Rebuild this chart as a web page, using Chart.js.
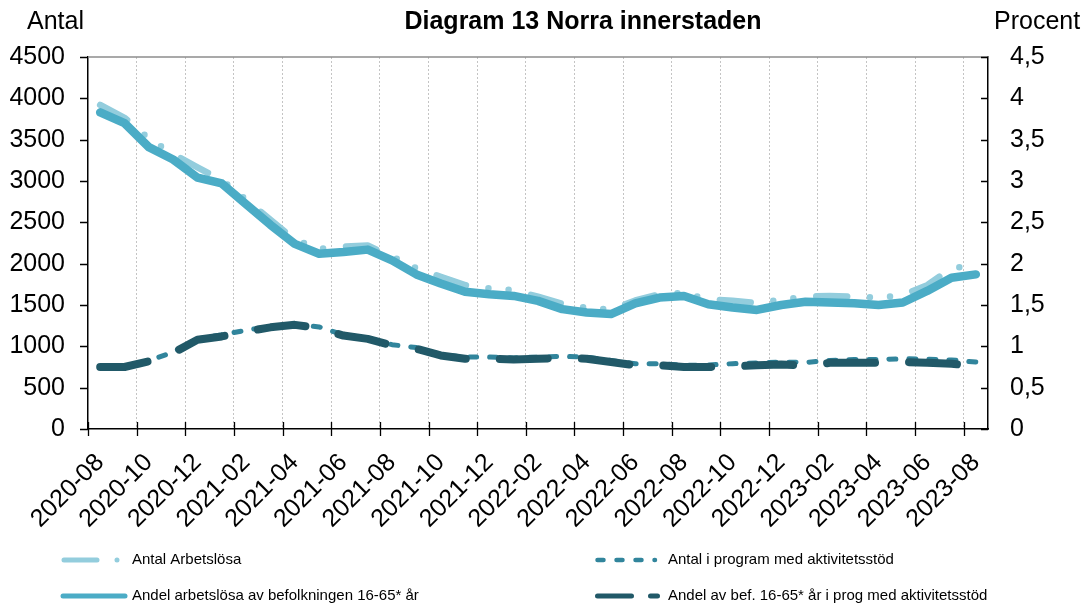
<!DOCTYPE html>
<html>
<head>
<meta charset="utf-8">
<script src="https://cdn.jsdelivr.net/npm/chart.js@4.4.1/dist/chart.umd.min.js"></script>
<style>
  body { margin: 0; background: #fff; }
  canvas { display: block; }
</style>
</head>
<body>
<canvas id="myChart" width="1087" height="607"></canvas>
<script>
var months = [
	"2020-08", "2020-09", "2020-10", "2020-11", "2020-12",
	"2021-01", "2021-02", "2021-03", "2021-04", "2021-05", "2021-06",
	"2021-07", "2021-08", "2021-09", "2021-10", "2021-11", "2021-12",
	"2022-01", "2022-02", "2022-03", "2022-04", "2022-05", "2022-06",
	"2022-07", "2022-08", "2022-09", "2022-10", "2022-11", "2022-12",
	"2023-01", "2023-02", "2023-03", "2023-04", "2023-05", "2023-06",
	"2023-07", "2023-08"
];

// vänster axel (antal)
var antalArbetslosa = [
	3920, 3765, 3515, 3325, 3165, 3010, 2775, 2530, 2290, 2180,
	2205, 2220, 2085, 1945, 1840, 1740, 1700, 1680, 1600, 1515,
	1465, 1445, 1555, 1630, 1645, 1570, 1550, 1525, 1565, 1600,
	1610, 1600, 1590, 1620, 1740, 1945, 1985
];
var antalProgram = [
	750, 755, 825, 930, 1090, 1140, 1195, 1240, 1270, 1235,
	1140, 1100, 1020, 985, 900, 870, 870, 860, 870, 880,
	870, 830, 790, 790, 770, 775, 790, 800, 810, 805,
	830, 840, 840, 850, 845, 835, 810
];

// höger axel (procent)
var andelArbetslosa = [
	3.83, 3.70, 3.41, 3.26, 3.04, 2.97, 2.72, 2.47, 2.24, 2.12,
	2.14, 2.17, 2.04, 1.87, 1.76, 1.66, 1.63, 1.61, 1.55, 1.45,
	1.41, 1.39, 1.52, 1.59, 1.61, 1.51, 1.47, 1.44, 1.50, 1.54,
	1.53, 1.52, 1.50, 1.53, 1.67, 1.83, 1.87
];
var andelProgram = [
	0.75, 0.75, 0.82, 0.92, 1.08, 1.12, 1.18, 1.23, 1.26, 1.22,
	1.13, 1.09, 1.01, 0.97, 0.89, 0.85, 0.85, 0.84, 0.85, 0.86,
	0.85, 0.81, 0.77, 0.77, 0.75, 0.75, 0.76, 0.77, 0.78, 0.77,
	0.80, 0.80, 0.80, 0.81, 0.80, 0.79, 0.76
];

var seriesNames = [
	"Antal Arbetslösa",
	"Antal i program med aktivitetsstöd",
	"Andel arbetslösa av befolkningen 16-65* år",
	"Andel av bef. 16-65* år i prog med aktivitetsstöd"
];

var FONT = '"Liberation Sans", Arial, sans-serif';
Chart.defaults.font.family = FONT;
Chart.defaults.color = '#000';

// legend sample styles (dash patterns as they appear in the legend)
var legendStyle = [
	{ width: 5, dash: [33, 20, 0, 100], from: 64, to: 125 },
	{ width: 4.5, dash: [6, 13], from: 60.5, to: 118 },
	{ width: 5, dash: [], from: 63, to: 125 },
	{ width: 5, dash: [34, 19, 7, 100], from: 60.5, to: 120.5 }
];

var decorations = {
	id: 'decorations',
	afterDraw: function (chart) {
		var ctx = chart.ctx, area = chart.chartArea;
		var xs = chart.scales.x, yl = chart.scales.y, yr = chart.scales.y1;
		ctx.save();

		// top frame line
		ctx.strokeStyle = '#8c8c8c';
		ctx.lineWidth = 1.5;
		ctx.beginPath();
		ctx.moveTo(area.left, area.top);
		ctx.lineTo(area.right, area.top);
		ctx.stroke();

		// tick marks
		ctx.strokeStyle = '#000';
		ctx.lineWidth = 1.3;
		ctx.beginPath();
		yl.ticks.forEach(function (t) {
			var p = Math.round(yl.getPixelForValue(t.value)) + 0.5;
			ctx.moveTo(area.left - 8, p);
			ctx.lineTo(area.left, p);
		});
		yr.ticks.forEach(function (t) {
			var p = Math.round(yr.getPixelForValue(t.value)) + 0.5;
			ctx.moveTo(area.right - 7, p);
			ctx.lineTo(area.right, p);
		});
		for (var i = 0; i < months.length; i += 2) {
			var px = Math.round(xs.getPixelForValue(i - 0.5)) + 0.5;
			ctx.moveTo(px, area.bottom - 7);
			ctx.lineTo(px, area.bottom + 7);
		}
		ctx.stroke();

		// titles
		ctx.fillStyle = '#000';
		ctx.textBaseline = 'alphabetic';
		ctx.font = '25px ' + FONT;
		ctx.textAlign = 'left';
		ctx.fillText('Antal', 27, 29);
		ctx.fillText('Procent', 994, 29);
		ctx.font = 'bold 25px ' + FONT;
		ctx.textAlign = 'center';
		ctx.fillText('Diagram 13 Norra innerstaden', 583, 29);

		// legend
		ctx.font = '15px ' + FONT;
		ctx.textAlign = 'left';
		ctx.textBaseline = 'middle';
		chart.data.datasets.forEach(function (ds, k) {
			var col = k % 2, row = Math.floor(k / 2);
			var ox = col === 0 ? 0 : 537;
			var y = row === 0 ? 560 : 596;
			var st = legendStyle[k];
			ctx.save();
			ctx.strokeStyle = ds.borderColor;
			ctx.lineWidth = st.width;
			ctx.lineCap = 'round';
			ctx.setLineDash(st.dash);
			ctx.beginPath();
			ctx.moveTo(ox + st.from, y);
			ctx.lineTo(ox + st.to, y);
			ctx.stroke();
			ctx.restore();
			ctx.fillText(ds.label, ox + (col === 0 ? 132 : 131), y);
		});

		ctx.restore();
	}
};

var ctx = document.getElementById("myChart").getContext("2d");

var myChart = new Chart(ctx, {
	type: 'line',
	data: {
		labels: months,
		datasets: [
			{
				label: seriesNames[0],
				data: antalArbetslosa,
				yAxisID: 'y',
				borderColor: '#93cddd',
				borderWidth: 6.5,
				borderDash: [31, 22.7, 0, 20.2, 0, 23],
				borderCapStyle: 'round',
				order: 4
			},
			{
				label: seriesNames[1],
				data: antalProgram,
				yAxisID: 'y',
				borderColor: '#31859c',
				borderWidth: 5,
				borderDash: [7, 13],
				borderCapStyle: 'round',
				order: 3
			},
			{
				label: seriesNames[2],
				data: andelArbetslosa,
				yAxisID: 'y1',
				borderColor: '#4bacc6',
				borderWidth: 8.5,
				borderCapStyle: 'round',
				order: 2
			},
			{
				label: seriesNames[3],
				data: andelProgram,
				yAxisID: 'y1',
				borderColor: '#215968',
				borderWidth: 8,
				borderDash: [48, 34],
				borderCapStyle: 'round',
				order: 1
			}
		]
	},
	options: {
		responsive: false,
		animation: false,
		devicePixelRatio: 1,
		layout: { padding: { top: 57, bottom: 78, left: 0, right: 0 } },
		elements: {
			point: { radius: 0, hoverRadius: 0 },
			line: { tension: 0, borderJoinStyle: 'round', fill: false }
		},
		plugins: {
			legend: { display: false },
			title: { display: false },
			tooltip: { enabled: false }
		},
		scales: {
			x: {
				offset: true,
				grid: {
					offset: true,
					drawTicks: false,
					lineWidth: 1,
					color: function (c) {
						return (c.index > 0 && c.index % 2 === 0) ? '#c4c4c4' : 'rgba(0,0,0,0)';
					}
				},
				border: { display: true, color: '#000', width: 1.5, dash: [2, 2] },
				ticks: {
					autoSkip: false,
					minRotation: 45,
					maxRotation: 45,
					padding: 19,
					font: { size: 25 },
					callback: function (v, i) {
						return i % 2 === 0 ? months[i] : '';
					}
				},
				afterFit: function (s) { s.height = 100; }
			},
			y: {
				position: 'left',
				min: 0,
				max: 4500,
				grid: { display: false, drawTicks: false },
				border: { display: true, color: '#000', width: 1.5 },
				ticks: {
					stepSize: 500,
					padding: 23,
					font: { size: 25 },
					callback: function (v) { return String(v); }
				},
				afterFit: function (s) { s.width = 88; }
			},
			y1: {
				position: 'right',
				min: 0,
				max: 4.5,
				grid: { display: false, drawTicks: false },
				border: { display: true, color: '#000', width: 1.5 },
				ticks: {
					stepSize: 0.5,
					padding: 22,
					font: { size: 25 },
					callback: function (v) {
						return (Math.round(v * 10) / 10).toString().replace('.', ',');
					}
				},
				afterFit: function (s) { s.width = 99; }
			}
		}
	},
	plugins: [decorations]
});
</script>
</body>
</html>
